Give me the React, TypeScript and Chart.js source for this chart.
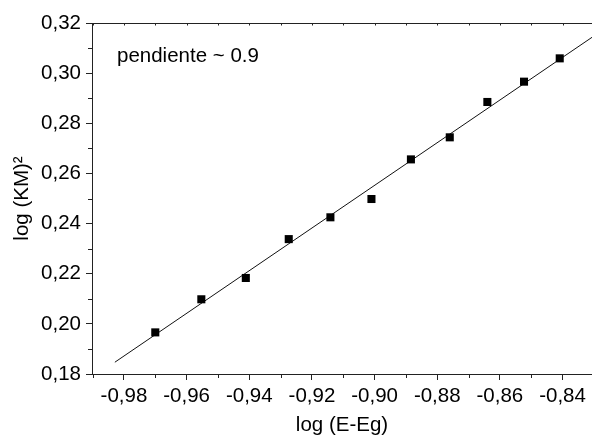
import { useEffect, useRef } from 'react';
import { Chart, registerables } from 'chart.js';

Chart.register(...registerables);

const xValues = [-0.97, -0.9553, -0.9411, -0.9274, -0.9141, -0.901, -0.8884, -0.876, -0.864, -0.8523, -0.8409];
const yValues = [0.1966, 0.2098, 0.2183, 0.2338, 0.2425, 0.2498, 0.2656, 0.2744, 0.2885, 0.2966, 0.3059];
const fitX = [-0.9829, -0.83];
const fitY = [0.1847, 0.3148];
const xMajorTicks = [-0.98, -0.96, -0.94, -0.92, -0.9, -0.88, -0.86, -0.84];
const xMinorTicks = [-0.99, -0.97, -0.95, -0.93, -0.91, -0.89, -0.87, -0.85, -0.83];
const yMajorTicks = [0.18, 0.2, 0.22, 0.24, 0.26, 0.28, 0.3, 0.32];
const yMinorTicks = [0.19, 0.21, 0.23, 0.25, 0.27, 0.29, 0.31];
const xRange = [-0.9902, -0.8306];
const yRange = [0.18, 0.32];
const xTitle = 'log (E-Eg)';
const yTitle = 'log (KM)²';
const note = 'pendiente ~ 0.9';

const FONT = '"Liberation Sans", Arial, sans-serif';
const AXIS = '#222';

const fmt = (v: number) => v.toFixed(2).replace('.', ',');

const extras = {
  id: 'extras',
  afterDraw(chart: any) {
    const { ctx, chartArea } = chart;
    const xs = chart.scales.x;
    const ys = chart.scales.y;
    const { left, right, top, bottom } = chartArea;
    ctx.save();
    ctx.strokeStyle = AXIS;
    ctx.lineWidth = 1;
    ctx.beginPath();
    ctx.moveTo(left, top + 0.5);
    ctx.lineTo(right, top + 0.5);
    for (const v of xMinorTicks) {
      const px = Math.round(xs.getPixelForValue(v)) + 0.5;
      ctx.moveTo(px, bottom);
      ctx.lineTo(px, bottom + 4);
    }
    for (const v of [...xMajorTicks, ...xMinorTicks]) {
      const px = Math.round(xs.getPixelForValue(v)) + 0.5;
      ctx.moveTo(px, top);
      ctx.lineTo(px, top + 2.5);
    }
    for (const v of yMinorTicks) {
      const py = Math.round(ys.getPixelForValue(v)) + 0.5;
      ctx.moveTo(left - 4, py);
      ctx.lineTo(left, py);
    }
    ctx.stroke();
    ctx.fillStyle = '#000';
    ctx.font = `20.5px ${FONT}`;
    ctx.textBaseline = 'alphabetic';
    ctx.textAlign = 'left';
    ctx.fillText(note, left + 25, top + 39);
    ctx.restore();
  },
};

export default function App() {
  const ref = useRef<HTMLCanvasElement | null>(null);
  useEffect(() => {
    if (!ref.current) return;
    const chart = new Chart(ref.current, {
      type: 'scatter',
      data: {
        datasets: [
          {
            label: 'data',
            data: xValues.map((x, i) => ({ x, y: yValues[i] })),
            pointStyle: 'rect',
            pointRadius: 5.7,
            pointBorderWidth: 0,
            backgroundColor: '#000',
            borderColor: '#000',
            showLine: false,
          },
          {
            label: 'fit',
            data: fitX.map((x, i) => ({ x, y: fitY[i] })),
            showLine: true,
            pointRadius: 0,
            borderWidth: 1,
            borderColor: '#111',
            backgroundColor: '#111',
          },
        ],
      },
      options: {
        responsive: false,
        animation: false,
        devicePixelRatio: 1,
        layout: { autoPadding: false, padding: { top: 23, left: 0, right: 0, bottom: 0 } },
        plugins: { legend: { display: false }, tooltip: { enabled: false } },
        scales: {
          x: {
            type: 'linear',
            min: xRange[0],
            max: xRange[1],
            afterBuildTicks: (s: any) => {
              s.ticks = xMajorTicks.map((v) => ({ value: v }));
            },
            afterFit: (s: any) => {
              s.height = 64;
              s.paddingLeft = 0;
              s.paddingRight = 0;
            },
            ticks: {
              autoSkip: false,
              maxRotation: 0,
              padding: 4,
              color: '#000',
              font: { family: FONT, size: 20.5 },
              callback: (v: any) => fmt(Number(v)),
            },
            grid: { drawOnChartArea: false, tickLength: 6, tickColor: AXIS, lineWidth: 1 },
            border: { display: true, color: AXIS, width: 1 },
            title: {
              display: true,
              text: xTitle,
              color: '#000',
              font: { family: FONT, size: 20.5, lineHeight: 1.2 },
              padding: { top: 0, bottom: 0 },
            },
          },
          y: {
            type: 'linear',
            min: yRange[0],
            max: yRange[1],
            afterBuildTicks: (s: any) => {
              s.ticks = yMajorTicks.map((v) => ({ value: v }));
            },
            afterFit: (s: any) => {
              s.width = 92;
              s.paddingTop = 0;
              s.paddingBottom = 0;
            },
            ticks: {
              autoSkip: false,
              padding: 5,
              color: '#000',
              font: { family: FONT, size: 20.5 },
              callback: (v: any) => fmt(Number(v)),
            },
            grid: { drawOnChartArea: false, tickLength: 6, tickColor: AXIS, lineWidth: 1 },
            border: { display: true, color: AXIS, width: 1 },
            title: {
              display: true,
              text: yTitle,
              color: '#000',
              font: { family: FONT, size: 20.5, lineHeight: 1.2 },
              padding: { top: 10, bottom: 0 },
            },
          },
        },
      },
      plugins: [extras],
    });
    return () => chart.destroy();
  }, []);
  return (
    <div style={{ position: 'fixed', left: 0, top: 0, width: 592, height: 438, background: '#fff' }}>
      <canvas ref={ref} width={592} height={438} style={{ width: 592, height: 438, display: 'block' }} />
    </div>
  );
}
